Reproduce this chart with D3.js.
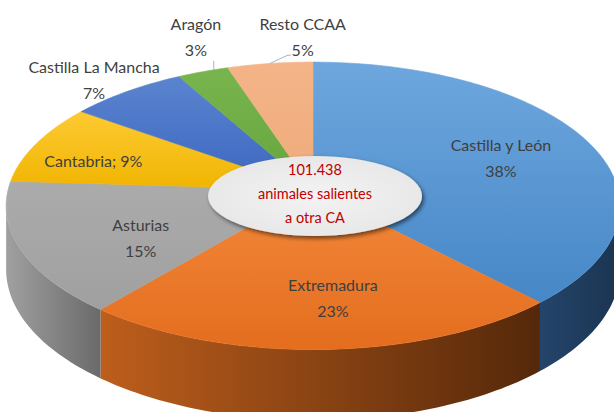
<!DOCTYPE html>
<html>
<head>
<meta charset="utf-8">
<script src="https://cdn.jsdelivr.net/npm/d3@7/dist/d3.min.js"></script>
<style>
  html, body { margin: 0; padding: 0; background: #ffffff; }
  svg { display: block; }
  text { font-family: Lato, "Open Sans", sans-serif; }
</style>
</head>
<body>
<svg id="chart" width="614" height="412"></svg>
<script>
// Animales salientes hacia otra comunidad autónoma, reparto por destino (%)
const categories = ["Castilla y León", "Extremadura", "Asturias", "Cantabria",
                    "Castilla La Mancha", "Aragón", "Resto CCAA"];
const shares = [38, 23, 15, 9, 7, 3, 5];
// how name and percentage are joined in each label
const labelJoin = ["\n", "\n", "\n", "; ", "\n", "\n", "\n"];
const centerLines = ["101.438", "animales salientes", "a otra CA"];

// face colours (light → dark) and wall colours (left → right)
const topLight  = ["#6ea7de", "#f3883b", "#ababab", "#fdca33", "#5b84cf", "#79b54f", "#f4b487"];
const topDark   = ["#4687c7", "#e46d1e", "#a0a0a0", "#f0b400", "#3a66c0", "#65a43d", "#efab7c"];
const sideLeft  = ["#24446a", "#bd5e1c", "#a0a0a0", "#b88a00", "#2a4a8a", "#4b7a2c", "#b07a55"];
const sideRight = ["#1b3551", "#55280a", "#6a6a6a", "#8a6600", "#1f3666", "#3a6020", "#8a5c3e"];

// label placement: radius fraction and angular nudge (degrees) from slice middle
const labelRadius = [0.673, 0.704, 0.635, 0.764, 1.155, 1.291, 1.223];
const labelNudge  = [1.5, -3.1, -7.5, -4.3, -1.4, 3.7, 7.2];

const svg = d3.select("#chart");
const defs = svg.append("defs");

// 3D pie geometry: tilted disc with mild perspective
const cx = 313, cy = 190, A = 305, B = 142, m = 0.11, depth = 63;
function proj(theta, r, down) {
  const u = r * Math.sin(theta), v = -r * Math.cos(theta);
  const w = 1 - m * v;
  return [cx + A * u / w, cy + (B * v + (down || 0)) / w];
}

const pie = d3.pie().sort(null).value(d => d).startAngle(0).endAngle(2 * Math.PI);
const arcs = pie(shares);

function arcPoints(a0, a1, r, down) {
  const n = Math.max(2, Math.ceil((a1 - a0) / 0.02));
  return d3.range(n + 1).map(i => proj(a0 + (a1 - a0) * i / n, r, down));
}
const line = d3.line();

// gradients
arcs.forEach((d, i) => {
  const g = defs.append("linearGradient").attr("id", "top" + i)
    .attr("x1", 0).attr("y1", 0).attr("x2", 0).attr("y2", 1);
  g.append("stop").attr("offset", "0%").attr("stop-color", topLight[i]);
  g.append("stop").attr("offset", "100%").attr("stop-color", topDark[i]);
  const s = defs.append("linearGradient").attr("id", "side" + i)
    .attr("x1", 0).attr("y1", 0).attr("x2", 1).attr("y2", 0);
  s.append("stop").attr("offset", "0%").attr("stop-color", sideLeft[i]);
  s.append("stop").attr("offset", "100%").attr("stop-color", sideRight[i]);
});

// visible front wall range (silhouette tangents)
const wallStart = Math.PI / 2 + Math.asin(m);
const wallEnd = 2 * Math.PI - wallStart;

const walls = svg.append("g");
arcs.forEach((d, i) => {
  const a0 = Math.max(d.startAngle, wallStart), a1 = Math.min(d.endAngle, wallEnd);
  if (a1 <= a0) return;
  const topEdge = arcPoints(a0, a1, 1, 0);
  const bottomEdge = arcPoints(a0, a1, 1, depth).reverse();
  walls.append("path")
    .attr("d", line(topEdge.concat(bottomEdge)) + "Z")
    .attr("fill", `url(#side${i})`);
});

const tops = svg.append("g");
arcs.forEach((d, i) => {
  const pts = [proj(0, 0)].concat(arcPoints(d.startAngle, d.endAngle, 1, 0));
  tops.append("path")
    .attr("d", line(pts) + "Z")
    .attr("fill", `url(#top${i})`)
    .attr("stroke", `url(#top${i})`)
    .attr("stroke-width", 0.6);
});

// labels
const labels = svg.append("g").attr("fill", "#3f3f3f").attr("font-size", 16)
  .attr("text-anchor", "middle");
arcs.forEach((d, i) => {
  const mid = (d.startAngle + d.endAngle) / 2 + labelNudge[i] * Math.PI / 180;
  const [lx, ly] = proj(mid, labelRadius[i]);
  const pct = Math.round(d.data) + "%";
  const lines = labelJoin[i] === "\n" ? [categories[i], pct] : [categories[i] + labelJoin[i] + pct];
  const lh = 26;
  const t = labels.append("text").attr("x", lx).attr("y", ly);
  lines.forEach((s, k) => {
    t.append("tspan").attr("x", lx)
      .attr("y", ly + (k - (lines.length - 1) / 2) * lh)
      .attr("dy", "0.35em").text(s);
  });
});

// leader lines for the small outer labels
const leaders = svg.append("g").attr("stroke", "#a9b3c2").attr("stroke-width", 1).attr("fill", "none");
{
  const ar = arcs[5];
  const end = proj(ar.startAngle + (ar.endAngle - ar.startAngle) * 0.72, 1);
  leaders.append("path").attr("d", line([[end[0], end[1] - 9], end]));
  const rs = arcs[6];
  const end2 = proj((rs.startAngle + rs.endAngle) / 2, 1);
  leaders.append("path").attr("d", line([[end2[0] + 21, end2[1] - 8.5], [end2[0] + 17, end2[1] - 8], end2]));
}

// centre badge
const f = defs.append("filter").attr("id", "shadow")
  .attr("x", "-20%").attr("y", "-30%").attr("width", "140%").attr("height", "160%");
f.append("feDropShadow").attr("dx", 2).attr("dy", 2.5).attr("stdDeviation", 2.2)
  .attr("flood-color", "#000").attr("flood-opacity", 0.55);
const rg = defs.append("radialGradient").attr("id", "badge");
rg.append("stop").attr("offset", "0%").attr("stop-color", "#f3f3f3");
rg.append("stop").attr("offset", "100%").attr("stop-color", "#e8e8e8");

svg.append("ellipse")
  .attr("cx", 315).attr("cy", 196).attr("rx", 107).attr("ry", 40)
  .attr("fill", "url(#badge)").attr("filter", "url(#shadow)");

const ct = svg.append("text").attr("fill", "#c00000").attr("font-size", 14.5)
  .attr("text-anchor", "middle");
centerLines.forEach((s, k) => {
  ct.append("tspan").attr("x", 315).attr("y", 170 + k * 24).attr("dy", "0.35em").text(s);
});
</script>
</body>
</html>
